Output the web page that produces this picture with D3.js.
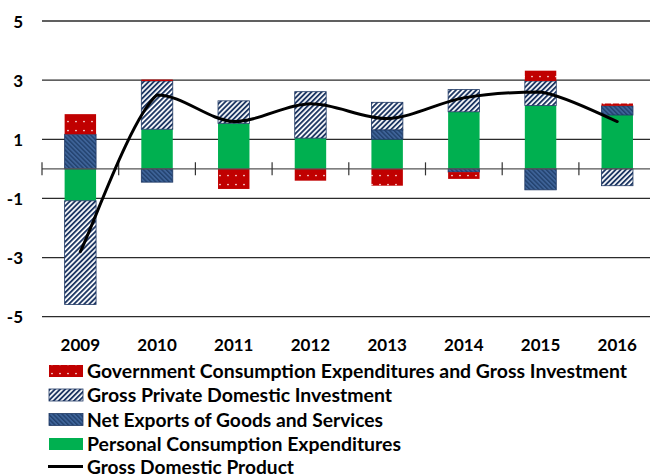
<!DOCTYPE html>
<html>
<head>
<meta charset="utf-8">
<script src="https://cdn.jsdelivr.net/npm/d3@7"></script>
<style>
  html, body { margin: 0; padding: 0; background: #fff; }
  svg { display: block; }
  text { font-family: Lato, "Open Sans", sans-serif; font-weight: 700; fill: #000; }
</style>
</head>
<body>
<svg id="chart" width="650" height="476"></svg>
<script>
// Contributions to percent change in real GDP (percentage points)
const years = ["2009", "2010", "2011", "2012", "2013", "2014", "2015", "2016"];
const pce         = [-1.08, 1.34, 1.54, 1.04, 1.00, 1.93, 2.14, 1.82];
const netExports  = [ 1.17, -0.45, 0.00, 0.00, 0.32, -0.11, -0.71, 0.31];
const investment  = [-3.51, 1.63, 0.76, 1.57, 0.93, 0.75, 0.83, -0.57];
const government  = [ 0.68, 0.05, -0.68, -0.40, -0.57, -0.23, 0.35, 0.08];
const gdp         = [-2.8, 2.5, 1.6, 2.2, 1.7, 2.4, 2.6, 1.6];
const yTicks = [-5, -3, -1, 1, 3, 5];

const seriesNames = {
  gov: "Government Consumption Expenditures and Gross Investment",
  inv: "Gross Private Domestic Investment",
  nx: "Net Exports of Goods and Services",
  pce: "Personal Consumption Expenditures",
  gdp: "Gross Domestic Product"
};

const svg = d3.select("#chart");

// Fill patterns
const defs = svg.append("defs");

const pGov = defs.append("pattern").attr("id", "pat-gov")
  .attr("patternUnits", "userSpaceOnUse").attr("width", 8).attr("height", 9);
pGov.append("rect").attr("width", 8).attr("height", 9).attr("fill", "#C00000");
pGov.append("circle").attr("cx", 4).attr("cy", 4.5).attr("r", 0.85).attr("fill", "#ffeeee");

const pInv = defs.append("pattern").attr("id", "pat-inv")
  .attr("patternUnits", "userSpaceOnUse").attr("width", 3.6).attr("height", 10)
  .attr("patternTransform", "rotate(45)");
pInv.append("rect").attr("width", 3.6).attr("height", 10).attr("fill", "#ffffff");
pInv.append("rect").attr("width", 1.9).attr("height", 10).attr("fill", "#1F3864");

const pNx = defs.append("pattern").attr("id", "pat-nx")
  .attr("patternUnits", "userSpaceOnUse").attr("width", 3.2).attr("height", 10)
  .attr("patternTransform", "rotate(-45)");
pNx.append("rect").attr("width", 3.2).attr("height", 10).attr("fill", "#3E6398");
pNx.append("rect").attr("width", 1.4).attr("height", 10).attr("fill", "#22416E");

const styles = {
  pce: { fill: "#00B050", stroke: "none" },
  nx:  { fill: "url(#pat-nx)", stroke: "#1F3864" },
  inv: { fill: "url(#pat-inv)", stroke: "#1F3864" },
  gov: { fill: "url(#pat-gov)", stroke: "none" }
};

// Scales
const x = d3.scaleBand().domain(years).range([42, 655.6])
  .paddingInner(0.59).paddingOuter(0.295);
const y = d3.scaleLinear().domain([-5, 5]).range([316.7, 21]);

// Gridlines
svg.append("g").selectAll("line").data(yTicks).join("line")
  .attr("x1", 42).attr("x2", 650)
  .attr("y1", d => y(d)).attr("y2", d => y(d))
  .attr("stroke", "#2b2b2b").attr("stroke-width", 1.3);

// Y tick labels
svg.append("g").selectAll("text").data(yTicks).join("text")
  .attr("x", 23).attr("y", d => y(d))
  .attr("text-anchor", "end").attr("dominant-baseline", "central")
  .attr("font-size", 17)
  .text(d => d);

// Stacked bars
const rows = years.map((yr, i) => ({
  year: yr, pce: pce[i], nx: netExports[i], inv: investment[i], gov: government[i]
}));
const keys = ["pce", "nx", "inv", "gov"];
const stacked = d3.stack().keys(keys).offset(d3.stackOffsetDiverging)(rows);

svg.append("g").selectAll("g").data(stacked).join("g")
  .attr("fill", d => styles[d.key].fill)
  .attr("stroke", d => styles[d.key].stroke)
  .attr("stroke-width", 0.8)
  .selectAll("rect").data(d => d.filter(s => Math.abs(s[1] - s[0]) > 1e-9)).join("rect")
    .attr("x", d => x(d.data.year))
    .attr("width", x.bandwidth())
    .attr("y", d => y(Math.max(d[0], d[1])))
    .attr("height", d => Math.abs(y(d[0]) - y(d[1])));

// Zero axis with category tick marks
const axisG = svg.append("g");
axisG.append("line")
  .attr("x1", 42).attr("x2", 650).attr("y1", y(0)).attr("y2", y(0))
  .attr("stroke", "#555").attr("stroke-width", 1.3);
const boundaries = d3.range(years.length + 1).map(i => x.range()[0] + i * x.step());
axisG.selectAll("line.tick").data(boundaries).join("line")
  .attr("class", "tick")
  .attr("x1", d => d).attr("x2", d => d)
  .attr("y1", y(0) - 6.5).attr("y2", y(0) + 6.5)
  .attr("stroke", "#333").attr("stroke-width", 1.2);

// Year labels
svg.append("g").selectAll("text").data(years).join("text")
  .attr("x", d => x(d) + x.bandwidth() / 2)
  .attr("y", 344.5)
  .attr("text-anchor", "middle").attr("dominant-baseline", "central")
  .attr("font-size", 17)
  .text(d => d);

// GDP line: Catmull-Rom style Bezier with control points kept
// between neighbouring values so the curve never overshoots a point.
function smoothPath(pts) {
  const p = d3.path();
  const k = 1 / 6;
  const clamp = (v, a, b) => Math.max(Math.min(a, b), Math.min(Math.max(a, b), v));
  p.moveTo(pts[0][0], pts[0][1]);
  for (let i = 0; i < pts.length - 1; i++) {
    const p0 = pts[Math.max(i - 1, 0)], p1 = pts[i], p2 = pts[i + 1], p3 = pts[Math.min(i + 2, pts.length - 1)];
    const c1x = p1[0] + (p2[0] - p0[0]) * k;
    const c1y = clamp(p1[1] + (p2[1] - p0[1]) * k, p1[1], p2[1]);
    const c2x = p2[0] - (p3[0] - p1[0]) * k;
    const c2y = clamp(p2[1] - (p3[1] - p1[1]) * k, p1[1], p2[1]);
    p.bezierCurveTo(c1x, c1y, c2x, c2y, p2[0], p2[1]);
  }
  return p.toString();
}
const gdpPoints = gdp.map((v, i) => [x(years[i]) + x.bandwidth() / 2, y(v)]);
svg.append("path")
  .attr("d", smoothPath(gdpPoints))
  .attr("fill", "none").attr("stroke", "#000").attr("stroke-width", 3)
  .attr("stroke-linejoin", "round").attr("stroke-linecap", "round");

// Legend
const legendItems = [
  { key: "gov", y: 371, w: 540 },
  { key: "inv", y: 395, w: 305 },
  { key: "nx",  y: 419.5, w: 296 },
  { key: "pce", y: 444, w: 314 },
  { key: "gdp", y: 466.5, w: 207 }
];
const lg = svg.append("g");
legendItems.forEach(it => {
  if (it.key === "gdp") {
    lg.append("line").attr("x1", 48).attr("x2", 83)
      .attr("y1", it.y).attr("y2", it.y)
      .attr("stroke", "#000").attr("stroke-width", 3);
  } else {
    lg.append("rect").attr("x", 49).attr("y", it.y - 6).attr("width", 34).attr("height", 12)
      .attr("fill", styles[it.key].fill)
      .attr("stroke", styles[it.key].stroke).attr("stroke-width", 0.8);
  }
  lg.append("text").attr("x", 87).attr("y", it.y)
    .attr("dominant-baseline", "central")
    .attr("font-size", 18)
    .attr("textLength", it.w).attr("lengthAdjust", "spacingAndGlyphs")
    .text(seriesNames[it.key]);
});
</script>
</body>
</html>
